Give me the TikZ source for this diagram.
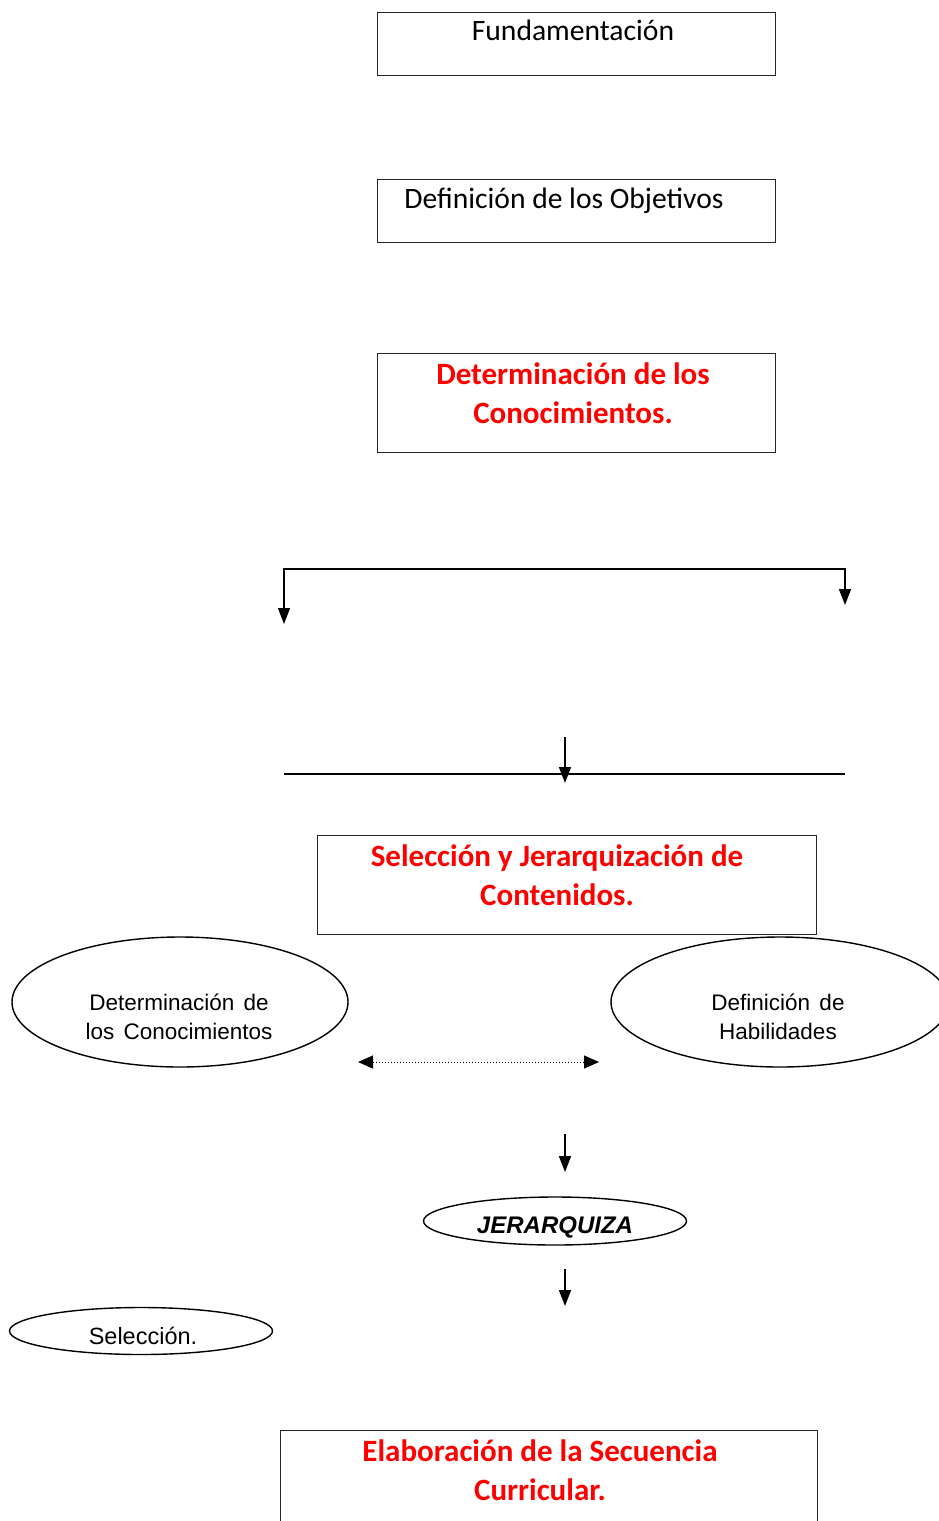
\documentclass[tikz,border=0pt]{standalone}
\usepackage{fontspec}
\newfontfamily\cajafont{Carlito}
\newfontfamily\elipfont{Liberation Sans}
\usetikzlibrary{arrows.meta,shapes.geometric,positioning}
\tikzset{
  caja/.style={draw=black!85, line width=1.1pt, rectangle, anchor=north west, inner sep=0pt},
  elipse/.style={draw=black, line width=1.4pt, ellipse, inner sep=0pt},
  texto/.style={font=\cajafont\fontsize{29.6}{39}\selectfont, anchor=base},
  rojo/.style={font=\cajafont\bfseries\fontsize{31}{39}\selectfont, text=red, align=center},
  txtelipse/.style={font=\elipfont\fontsize{22.5}{29}\selectfont, align=center},
  flecha/.style={line width=1.6pt, -{Triangle[length=16pt,width=12pt]}},
  dobleflecha/.style={line width=1.6pt, {Triangle[length=16pt,width=12pt]}-{Triangle[length=16pt,width=12pt]}},
}
\newcommand\esp{\hspace{3pt}}
\begin{document}
\begin{tikzpicture}[x=1pt,y=-1pt]
\useasboundingbox (0,0) rectangle (939,1521);
\clip (0,0) rectangle (939,1521);
%cajas de arriba
\node[caja, minimum width=398, minimum height=63] (fund) at (377,12) {};
\node[texto] (fundtxt) at (573,40) {Fundamentación};
\node[caja, minimum width=398, minimum height=63] (obj) at (377,179) {};
\node[texto] (objtxt) at (564,208) {Definición de los Objetivos};
\node[caja, minimum width=398, minimum height=99] (conoc) at (377,353) {};
\node[rojo] (conoctxt) at (573,393.5) {Determinación de los\\Conocimientos.};

%ramas
\coordinate (ramaizq) at (284,624);
\coordinate (esqizq) at (284,569);
\coordinate (esqder) at (845,569);
\coordinate (ramader) at (845,605);
\draw[dobleflecha] (ramaizq) -- (esqizq) -- (esqder) -- (ramader);

\coordinate (lineaizq) at (284,774);
\coordinate (lineader) at (845,774);
\draw[line width=1.6pt] (lineaizq) -- (lineader);
\coordinate (f1a) at (565,737);
\coordinate (f1b) at (565,783);
\draw[flecha] (f1a) -- (f1b);

%seleccion
\node[caja, minimum width=499, minimum height=99] (selec) at (317,835) {};
\node[rojo] (selectxt) at (557,875.5) {Selección y Jerarquización de\\Contenidos.};

%elipses
\node[elipse, minimum width=336, minimum height=130] (detcon) at (180,1002) {};
\node[txtelipse] (detcontxt) at (179,1017) {Determinación \esp de\\los \esp Conocimientos};
\node[elipse, minimum width=338, minimum height=130] (habil) at (780,1002) {};
\node[txtelipse] (habiltxt) at (778,1017) {Definición \esp de\\Habilidades};

\coordinate (pizq) at (358,1062);
\coordinate (pder) at (599,1062);
\draw[dotted, line width=1pt, {Triangle[length=15pt,width=13pt]}-{Triangle[length=15pt,width=13pt]}] (pizq) -- (pder);

\coordinate (f2a) at (565,1134);
\coordinate (f2b) at (565,1172);
\draw[flecha] (f2a) -- (f2b);

\node[elipse, minimum width=263, minimum height=48] (jer) at (555,1221) {};
\node[txtelipse, font=\elipfont\bfseries\itshape\fontsize{24}{29}\selectfont, anchor=base] (jertxt) at (555,1233) {JERARQUIZA};

\coordinate (f3a) at (565,1269);
\coordinate (f3b) at (565,1306);
\draw[flecha] (f3a) -- (f3b);

\node[elipse, minimum width=263, minimum height=47] (sel) at (141,1331) {};
\node[txtelipse, font=\elipfont\fontsize{23.5}{29}\selectfont, anchor=base] (seltxt) at (143,1344) {Selección.};

%caja final
\node[caja, minimum width=537, minimum height=99] (elab) at (280,1430) {};
\node[rojo] (elabtxt) at (540,1470.5) {Elaboración de la Secuencia\\Curricular.};
\end{tikzpicture}
\end{document}
